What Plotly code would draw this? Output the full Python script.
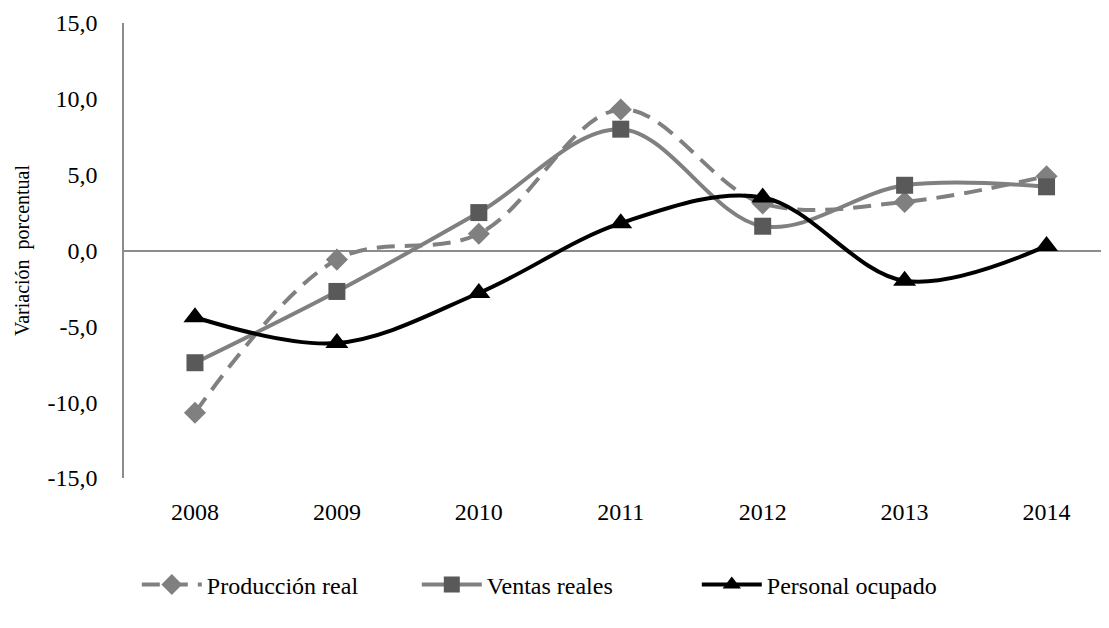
import plotly.graph_objects as go

years = ["2008", "2009", "2010", "2011", "2012", "2013", "2014"]
produccion_real = [-10.7, -0.6, 1.1, 9.3, 3.1, 3.2, 4.9]
ventas_reales = [-7.4, -2.7, 2.5, 8.0, 1.6, 4.3, 4.2]
personal_ocupado = [-4.4, -6.1, -2.8, 1.8, 3.5, -2.0, 0.3]

y_tick_vals = [-15, -10, -5, 0, 5, 10, 15]
y_tick_text = ["-15,0", "-10,0", "-5,0", "0,0", "5,0", "10,0", "15,0"]

FONT = "Liberation Serif, Times New Roman, serif"

fig = go.Figure()
fig.add_trace(go.Scatter(
    x=years, y=produccion_real, name="Producción real", mode="lines+markers",
    line=dict(color="#808080", width=4, dash="18px,10px", shape="spline", smoothing=1),
    marker=dict(symbol="diamond", size=17, color="#808080"),
))
fig.add_trace(go.Scatter(
    x=years, y=ventas_reales, name="Ventas reales", mode="lines+markers",
    line=dict(color="#808080", width=4, shape="spline", smoothing=1),
    marker=dict(symbol="square", size=17, color="#595959"),
))
fig.add_trace(go.Scatter(
    x=years, y=personal_ocupado, name="Personal ocupado", mode="lines+markers",
    line=dict(color="#000000", width=4, shape="spline", smoothing=1),
    marker=dict(symbol="triangle-up", size=20, color="#000000"),
))

fig.update_layout(
    width=1101, height=620,
    margin=dict(l=116, r=0, t=15, b=150, autoexpand=False),
    paper_bgcolor="white", plot_bgcolor="white",
    font=dict(family=FONT, size=22, color="#000000"),
    showlegend=True,
    legend=dict(orientation="h", x=0.013, xanchor="left", y=-0.235, yanchor="middle",
                font=dict(family=FONT, size=24), itemwidth=60,
                entrywidth=205, entrywidthmode="pixels", tracegroupgap=0,
                bgcolor="rgba(0,0,0,0)"),
)
fig.update_xaxes(
    type="category", range=[-0.5, 6.44], showgrid=False, showline=False, zeroline=False,
    ticks="outside", ticklen=12, tickcolor="rgba(0,0,0,0)", automargin=False,
    tickfont=dict(family=FONT, size=24),
)
fig.update_yaxes(
    range=[-15, 15], tickvals=y_tick_vals, ticktext=y_tick_text,
    showgrid=False, showline=True, linecolor="#8c8c8c", linewidth=1.5,
    zeroline=True, zerolinecolor="#8c8c8c", zerolinewidth=1.5,
    ticks="outside", ticklen=20, tickcolor="rgba(0,0,0,0)", automargin=False,
    tickfont=dict(family=FONT, size=24),
    title=dict(text="Variación  porcentual", font=dict(family=FONT, size=20), standoff=12),
)

fig.write_html("out.html")
